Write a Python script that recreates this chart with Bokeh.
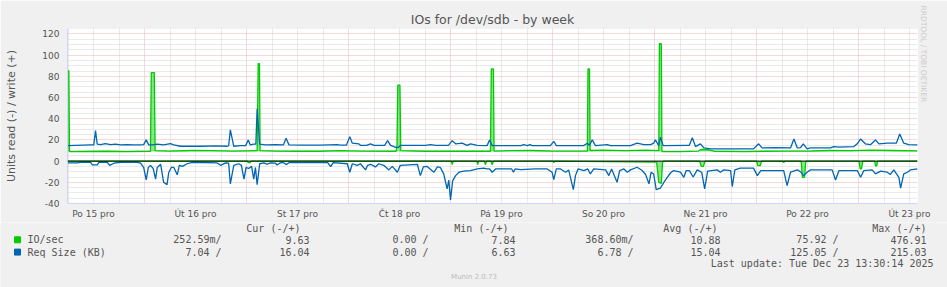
import math
from bokeh.plotting import figure
from bokeh.models import FixedTicker, Span, Range1d, Title
from bokeh.layouts import column
from bokeh.core.properties import value
from bokeh.embed import file_html
from bokeh.resources import INLINE

# ---------------- data ----------------
TITLE = "IOs for /dev/sdb - by week"
Y_LABEL = "Units read (-) / write (+)"
WATERMARK = "RRDTOOL / TOBI OETIKER"
VERSION = "Munin 2.0.73"
LAST_UPDATE = "Last update: Tue Dec 23 13:30:14 2025"

# hours since Mon 15 Dec 00:00
X_START, X_END = 5.88, 205.88
DAY_TICKS_H = [12, 36, 60, 84, 108, 132, 156, 180, 204]
DAY_LABELS = ["Po 15 pro", "Út 16 pro", "St 17 pro", "Čt 18 pro", "Pá 19 pro",
              "So 20 pro", "Ne 21 pro", "Po 22 pro", "Út 23 pro"]
MIDNIGHTS_H = [24, 48, 72, 96, 120, 144, 168, 192]
SIX_HOURS_H = [h for h in range(6, 206, 6) if h % 24 != 0]

Y_TICKS = [-40, -20, 0, 20, 40, 60, 80, 100, 120]
Y_TICK_LABELS = ["-40", "-20", "0", "20", "40", "60", "80", "100", "120"]
Y_MINOR = [v for v in range(-40, 126, 5) if v % 20 != 0]

# IO/sec write (+)
IO_WRITE = [(5.9, 85), (6.2, 85), (6.35, 9.0), (15, 9.3), (20, 9.0), (25.4, 9.3), (25.6, 83.5),
            (26.3, 83.5), (26.5, 9.8), (30, 9.5), (35, 10.0), (40, 9.8), (45, 9.5), (50.5, 10.0),
            (50.75, 92), (51.05, 92), (51.2, 9.8), (55, 9.5), (60, 9.3), (65, 9.3), (70, 9.8),
            (75, 9.5), (83.2, 9.3), (83.4, 14), (83.6, 71.7), (84.1, 71.7), (84.3, 9.8), (90, 9.3),
            (95, 9.3), (100, 9.3), (105.4, 9.3), (105.6, 87), (106.1, 87), (106.25, 9.5),
            (110, 9.8), (115, 10.0), (120, 9.5), (125, 9.5), (128.2, 9.5), (128.35, 87),
            (128.7, 87), (128.85, 10.0), (132, 10.3), (137, 9.8), (142, 10.3), (145.0, 9.8),
            (145.15, 110.7), (145.6, 110.7), (145.75, 9.0), (150, 9.0), (154.3, 9.5), (155, 11),
            (156.5, 10.8), (158, 9.3), (165, 9.0), (170, 9.3), (175, 9.5), (180, 9.5),
            (185, 10.0), (190, 9.8), (195, 10.3), (200, 10.0), (205.9, 9.6)]

# IO/sec read (-), stored as positive values
IO_READ = [(5.9, 0), (48.2, 0), (48.4, 1.5), (48.9, 1.5), (49.1, 0), (96.2, 0), (96.4, 3.3),
           (96.6, 0), (102.2, 0), (102.4, 3.3), (102.6, 0), (104.0, 0), (104.2, 3.5), (104.5, 0),
           (105.5, 0), (105.8, 3.5), (106.1, 0), (120.1, 0), (120.3, 1.5), (120.5, 0),
           (144.5, 1), (145.0, 20), (145.6, 21), (145.9, 1), (146.2, 0), (154.6, 0), (155.0, 5),
           (155.5, 5), (155.9, 0), (168.0, 0), (168.3, 4.2), (168.9, 4.2), (169.2, 0),
           (174.2, 0), (174.4, 1.5), (174.6, 0), (178.5, 0), (178.8, 15.3), (179.3, 15.3),
           (179.6, 0), (192.1, 0), (192.4, 7.4), (192.7, 7.4), (193.0, 0), (195.8, 0),
           (196.0, 4.4), (196.3, 4.4), (196.5, 0), (205.9, 0)]

# Req Size (KB) write (+)
RS_WRITE = [(5.9, 14.6), (11.3, 15.3), (12.07, 15.3), (12.47, 28.8), (12.87, 16), (13.65, 15.6),
            (14.8, 16.5), (16.0, 15.5), (17.2, 16), (18.35, 15.3), (19.9, 15.6), (21.4, 15.3),
            (23.06, 15.3), (23.8, 15.5), (24.4, 20), (25.0, 15.3), (25.8, 15.3), (27.0, 16),
            (28.5, 15.3), (30.1, 16.5), (30.9, 15.3), (32.5, 14), (37.2, 14), (40.7, 14.3),
            (43.5, 14), (43.8, 14.5), (44.2, 29.4), (45.0, 14), (46.6, 14.6), (47.8, 14.6),
            (48.4, 20), (48.9, 15.3), (49.7, 16), (50.2, 16), (50.5, 49.4), (51.1, 16),
            (52.5, 15.3), (54.8, 15.5), (56.7, 15.3), (57.3, 21.5), (58.0, 15.3), (60.7, 15.0),
            (65.4, 15.0), (69.3, 15.6), (70.1, 15.0), (71.5, 15.0), (72.3, 23.1), (72.9, 16.9),
            (74.4, 16.3), (74.8, 14.9), (76.2, 14.9), (77.2, 16.3), (78.0, 14.9), (80.5, 14.9),
            (81.2, 19.3), (81.9, 14.9), (83.1, 13), (83.8, 13), (84.2, 14.9), (90.1, 14.9),
            (91.3, 15.6), (92.5, 14.9), (95.5, 14.9), (96.4, 19.3), (97.2, 16.3), (98.75, 16.9),
            (99.9, 14.9), (100.7, 16.3), (102.3, 14.9), (104.6, 14.6), (105.2, 20), (105.8, 14.6),
            (112.5, 14.6), (113.25, 15.6), (114.05, 14.6), (114.7, 15.6), (115.2, 14.6),
            (119.5, 14.6), (120.3, 18.7), (120.9, 14.6), (127.3, 14.6), (128.2, 16.9),
            (128.7, 15), (129.35, 20), (130.1, 14.6), (132.9, 15.6), (133.65, 14.6),
            (138.35, 14.6), (139.9, 16.9), (141.5, 15.6), (143.1, 15.6), (143.8, 16.9),
            (144.2, 20), (145.0, 14.6), (145.4, 22.5), (146.05, 14.6), (151.7, 14.9),
            (152.2, 14.9), (152.9, 22), (153.65, 13.7), (154.8, 16.3), (155.6, 12.4),
            (157.2, 11.5), (167.3, 11.5), (168.5, 16.3), (169.3, 12.4), (172.5, 12.6),
            (176.0, 12.4), (176.8, 20.9), (177.6, 12.4), (178.35, 12.8), (179.0, 16.3),
            (179.9, 11.5), (180.7, 12.4), (185.4, 12.4), (186.2, 13.7), (187.4, 13.1),
            (190.9, 13.7), (191.7, 16.3), (192.5, 20.9), (193.6, 16.3), (194.8, 15.5),
            (196.0, 20), (196.8, 16.3), (198.75, 16.9), (200.9, 16.9), (201.7, 25.6),
            (202.65, 16.9), (203.8, 15.5), (205.9, 15.3)]

# Req Size (KB) read (-), stored as positive values
RS_READ = [(5.9, 1.7), (8.2, 1.7), (8.9, 1.1), (11.3, 1.1), (11.7, 3.6), (12.9, 3.6), (13.25, 1.1),
           (15.2, 1.1), (15.8, 4.1), (16.8, 2), (18.35, 1.1), (22.3, 1.1), (23.06, 2), (23.8, 6),
           (24.4, 17.8), (24.9, 6), (25.4, 4), (26.05, 7), (26.6, 17), (27.0, 6), (27.8, 3),
           (28.5, 20), (29.3, 22.2), (29.7, 10.8), (30.3, 6), (30.9, 6), (31.7, 12.9), (32.2, 4),
           (32.9, 5), (34.05, 2.5), (35.2, 1.1), (41.1, 1.7), (41.9, 4), (43.1, 1.7), (43.8, 2),
           (44.2, 21.5), (45.0, 4), (46.2, 2.5), (46.8, 4), (47.4, 17), (47.9, 6), (48.5, 7),
           (49.2, 5), (49.7, 17), (50.1, 6), (50.5, 22.2), (51.1, 2.5), (52.1, 1.7), (52.9, 3),
           (53.6, 1.7), (54.8, 2), (55.2, 3.6), (56.0, 1.5), (56.7, 1.5), (57.4, 3.3),
           (58.0, 1.5), (66.2, 1.5), (67.1, 1.5), (67.8, 5.2), (68.4, 1.5), (71.7, 2.5),
           (72.3, 10.5), (72.9, 2.5), (74.05, 4), (74.8, 2.5), (76.0, 8.3), (76.5, 4), (77.2, 3),
           (78.35, 5.5), (79.1, 2.5), (80.3, 4), (81.5, 8.3), (82.3, 5), (83.5, 10.5), (84.2, 4),
           (88.2, 3), (88.9, 13.7), (89.6, 5.5), (90.5, 5), (92.1, 10.5), (92.9, 5.5), (93.6, 6),
           (94.4, 12.1), (95.2, 26.3), (95.6, 18), (96.0, 36.6), (96.5, 18.6), (97.2, 13.7),
           (98.0, 10.5), (99.1, 9.5), (100.7, 8.9), (102.3, 7.4), (103.8, 6.6), (104.6, 7.4),
           (105.2, 7.4), (105.8, 10.5), (106.6, 7.4), (110.4, 7.4), (110.8, 10.5), (111.2, 7.4),
           (112.5, 8), (116.0, 7.4), (118.75, 7.4), (119.9, 10.5), (120.3, 17.5), (120.9, 7.4),
           (121.9, 7.4), (123.1, 10.5), (123.8, 8.3), (124.9, 26.9), (125.4, 13.7), (126.0, 7.4),
           (127.4, 9), (128.3, 7.4), (128.9, 12.1), (129.7, 7.4), (132.5, 8.3), (133.25, 13.7),
           (133.9, 7.4), (135.2, 20), (135.8, 8.9), (136.8, 7.4), (137.6, 10.5), (138.35, 8.3),
           (139.9, 5.8), (141.1, 8.9), (141.9, 12.6), (142.7, 21.5), (143.2, 10.5),
           (143.8, 12.1), (144.4, 26.9), (145.4, 25.4), (146.2, 20), (147.0, 15.3), (147.8, 11),
           (148.5, 8.9), (150.1, 10.5), (150.9, 15.3), (151.45, 8.9), (152.2, 9), (153.1, 15),
           (154.05, 8.3), (155.1, 10.5), (155.8, 26.3), (156.5, 9.5), (158.75, 8.3),
           (159.5, 10.5), (160.3, 8.3), (161.9, 8.9), (162.3, 24), (162.9, 8.3), (164.2, 6.6),
           (167.3, 6.6), (168.2, 13.7), (169.0, 8.9), (170.5, 8.9), (174.4, 8.9), (175.2, 23.1),
           (176.0, 10.5), (177.6, 8.3), (178.35, 10), (179.1, 13.7), (179.9, 10.5),
           (180.7, 8.3), (185.8, 8.3), (186.6, 17.8), (187.4, 8.9), (191.7, 8.9), (192.5, 15.3),
           (193.25, 8.9), (195.2, 8.3), (196.0, 12.1), (197.2, 9.5), (198.75, 10.5),
           (199.5, 12.6), (200.3, 8.3), (201.5, 15.3), (201.9, 25.4), (202.65, 12),
           (203.5, 10.5), (204.2, 8.3), (205.9, 7.4)]

LEGEND_HEADERS = ["Cur (-/+)", "Min (-/+)", "Avg (-/+)", "Max (-/+)"]
SERIES_NAMES = ["IO/sec", "Req Size (KB)"]
SERIES_COLORS = ["#00CC00", "#0066B3"]
IOSEC_STATS = ["252.59m/", "9.63", "0.00 /", "7.84", "368.60m/", "10.88", "75.92 /", "476.91"]
REQSIZE_STATS = ["7.04 /", "16.04", "0.00 /", "6.63", "6.78 /", "15.04", "125.05 /", "215.03"]

# ---------------- main figure ----------------
W = 947
H_TOP, H_BOTTOM = 222, 65
FONT = "DejaVu Sans"
MONO = "DejaVu Sans Mono"
TXT = "#555555"
BACK = "#F0F0F0"

p = figure(width=W, height=H_TOP, title=None, toolbar_location=None, output_backend="svg",
           x_range=Range1d(X_START, X_END), y_range=Range1d(-40, 125.1),
           min_border_left=67, min_border_right=30, min_border_top=28, min_border_bottom=19)
p.frame_align = False
p.background_fill_color = "#FFFFFF"
p.border_fill_color = BACK
p.outline_line_color = None

title = Title(text=TITLE, align="center", offset=-18.5, standoff=3,
              text_font=FONT, text_font_size="12.5px", text_font_style="normal", text_color=TXT)
p.add_layout(title, "above")
wm = Title(text=WATERMARK, align="left", offset=-23, standoff=3,
           text_font=FONT, text_font_size="7.5px", text_font_style="normal", text_color="#CCCCCC")
p.add_layout(wm, "right")

# axes
p.xaxis.ticker = FixedTicker(ticks=DAY_TICKS_H)
p.xaxis.major_label_overrides = {t: l for t, l in zip(DAY_TICKS_H, DAY_LABELS)}
p.yaxis.ticker = FixedTicker(ticks=Y_TICKS)
p.yaxis.major_label_overrides = {t: l for t, l in zip(Y_TICKS, Y_TICK_LABELS)}
for ax in (p.xaxis, p.yaxis):
    ax.axis_line_color = "#CFD6F8"
    ax.major_tick_line_color = None
    ax.minor_tick_line_color = None
    ax.major_tick_out = 0
    ax.major_tick_in = 0
    ax.major_label_text_font = FONT
    ax.major_label_text_font_size = "9px"
    ax.major_label_text_color = TXT
p.xaxis.major_label_standoff = 5
p.yaxis.major_label_standoff = 8
p.yaxis.axis_label = Y_LABEL
p.yaxis.axis_label_text_font = FONT
p.yaxis.axis_label_text_font_size = "11px"
p.yaxis.axis_label_text_font_style = "normal"
p.yaxis.axis_label_text_color = TXT
p.yaxis.axis_label_standoff = 21

# grids
p.xgrid.ticker = FixedTicker(ticks=MIDNIGHTS_H, minor_ticks=SIX_HOURS_H)
p.ygrid.ticker = FixedTicker(ticks=Y_TICKS, minor_ticks=Y_MINOR)
for g in (p.xgrid, p.ygrid):
    g.grid_line_color = "#EDB4B4"
    g.grid_line_dash = "1 1"
    g.grid_line_width = 1
    g.minor_grid_line_color = "#D4D4D4"
    g.minor_grid_line_dash = "1 1"
    g.minor_grid_line_width = 1


def split(pairs, sign=1):
    return [a for a, _ in pairs], [sign * b for _, b in pairs]


lw = 1.3
# light fill inside the narrow green spikes
x, y = split(IO_WRITE)
base = min(y)
p.varea(x=x, y1=[min(v, base) for v in y], y2=y, fill_color=SERIES_COLORS[0], fill_alpha=0.45)
x, y = split(IO_READ, -1)
p.varea(x=x, y1=y, y2=[0] * len(y), fill_color=SERIES_COLORS[0], fill_alpha=0.45)

x, y = split(IO_READ, -1)
p.line(x, y, line_color=SERIES_COLORS[0], line_width=lw)
x, y = split(IO_WRITE)
p.line(x, y, line_color=SERIES_COLORS[0], line_width=lw)
x, y = split(RS_READ, -1)
p.line(x, y, line_color=SERIES_COLORS[1], line_width=lw)
x, y = split(RS_WRITE)
p.line(x, y, line_color=SERIES_COLORS[1], line_width=lw)

p.add_layout(Span(location=0, dimension="width", line_color="#000000", line_width=1))

# ---------------- legend figure (pixel coordinates, y down) ----------------
q = figure(width=W, height=H_BOTTOM, title=None, toolbar_location=None, output_backend="svg",
           x_range=Range1d(0, W), y_range=Range1d(H_TOP + H_BOTTOM, H_TOP),
           min_border_left=0, min_border_right=0, min_border_top=0, min_border_bottom=0)
q.frame_align = False
q.axis.visible = False
q.xgrid.visible = False
q.ygrid.visible = False
q.background_fill_color = BACK
q.border_fill_color = BACK
q.outline_line_color = None


def txt(xs, ys, texts, align="left", font=MONO, size="10px", color=TXT):
    q.text(x=xs, y=ys, text=texts, text_font=value(font), text_font_size=value(size),
           text_color=value(color), text_align=value(align), text_baseline=value("middle"))


HEADER_RIGHT = [300, 508, 717, 926]
STAT_RIGHT = [221, 309, 428, 515, 633, 720, 838, 926]
ROW_Y = [239.3, 251.6]
txt(HEADER_RIGHT, [227.7] * 4, LEGEND_HEADERS, align="right")
for yy, name, color, stats in zip(ROW_Y, SERIES_NAMES, SERIES_COLORS, [IOSEC_STATS, REQSIZE_STATS]):
    q.rect(x=[17], y=[yy], width=6, height=6, fill_color=color, line_color=color)
    txt([27], [yy], [name])
    txt(STAT_RIGHT, [yy] * len(stats), stats, align="right")
txt([933], [263.3], [LAST_UPDATE], align="right")
txt([473.5], [276], [VERSION], align="center", font=FONT, size="7px", color="#BBBBBB")

layout = column(p, q, spacing=0)
open("out.html", "w").write(file_html(layout, INLINE))
